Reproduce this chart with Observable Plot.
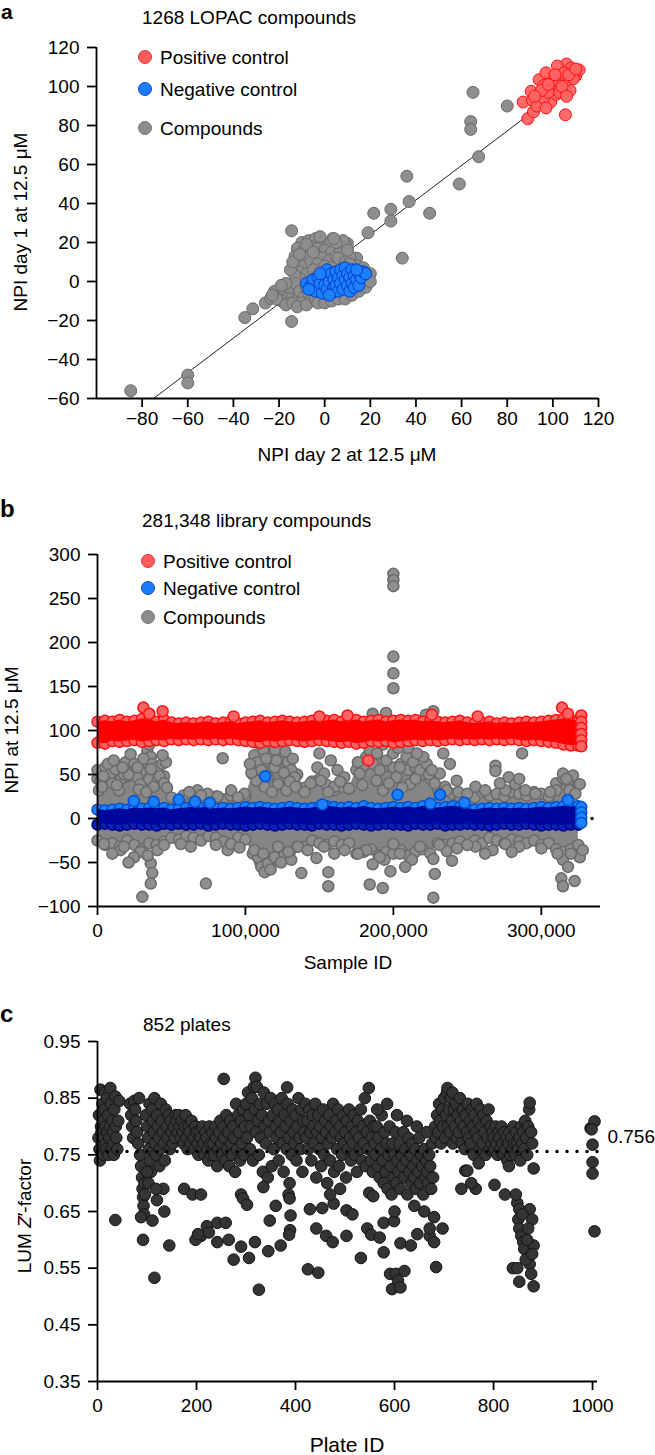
<!DOCTYPE html>
<html>
<head>
<meta charset="utf-8">
<script src="https://cdn.jsdelivr.net/npm/d3@7"></script>
<script src="https://cdn.jsdelivr.net/npm/@observablehq/plot@0.6"></script>
<style>
  html, body { margin: 0; padding: 0; background: #fff; }
  #root { position: relative; width: 655px; height: 1455px; overflow: hidden; }
  .panel { position: absolute; left: 0; }
  #overlay { position: absolute; left: 0; top: 0; pointer-events: none; }
</style>
</head>
<body>
<div id="root">
  <div class="panel" id="pa" style="top:0px"></div>
  <div class="panel" id="pb" style="top:480px"></div>
  <div class="panel" id="pc" style="top:990px"></div>
</div>
<script>
const FONT = "'Liberation Sans', Arial, Helvetica, sans-serif";

// ---------------- Panel a: LOPAC replicate scatter ----------------
const aTicksX = [-80, -60, -40, -20, 0, 20, 40, 60, 80, 100, 120];
const aTicksY = [-60, -40, -20, 0, 20, 40, 60, 80, 100, 120];
const aDomainX = [-100, 120];
const aDomainY = [-60, 120];
const aCompounds = [
  [-85,-56],[-60,-48],[-60,-52],[-35,-18.5],[-31.5,-14],[-26,-11],[-14.5,26],[-14.5,-20.5],
  [65,97],[80,90],[64,82],[64,78],[67.5,64],[59,50],[36,54],[37,41],[29,37],[29,31],[21.5,35],
  [46,35],[34,12],[19,25],[14,12],[10,19.5],[3.5,22],[3.5,18],[-23.6,-8.7],[-19,-8.7],
  [-10,20],[-7,21],[-4,22],[-1,20],[2,19],[-12,17],[-9,16],[-6,18],[-3,17],[0,16],[3,15],
  [-13,13],[-10,12],[-7,13],[-4,14],[-1,12],[2,11],[5,13],[-12,9],[-9,8],[-6,10],[-3,9],[0,8],
  [3,7],[-11,5],[-8,4],[-5,6],[-2,5],[1,4],[-10,1],[-7,0],[-4,2],[-13,3],[-15,6],[-14,10],
  [-11,14],[-8,19],[-5,15],[7,16],[9,19],[8,21],[6,12],[9,10],[11,13],[10,16],[12,8],[5,20],
  [-2,23],[4,22],
  [-22,-5],[-20,-7],[-18,-4],[-16,-8],[-19,-10],[-21,-9],[-17,-12],[-14,-6],[-12,-9],[-15,-3],
  [-13,-1],[-11,-5],[-9,-8],[-10,-11],[-7,-6],[-6,-10],[-8,-3],[-17,-1],[-23,-7],[-19,-2],
  [-14,-11],[-12,-13],[-8,-12],
  [-4,-9],[-1,-8],[2,-9],[5,-7],[8,-6],[11,-5],[14,-3],[17,-1],[19,2],[20,4],[16,3],[13,1],
  [10,-2],[7,-4],[4,-5],[1,-3],[-2,-4],[-5,-3],[6,1],[9,3],[12,5],[15,6],[3,4],[0,0],[18,0],
  [-3,-11],[0,-11],[3,-10],[6,-9],[9,-9],[12,-7],[15,-5],[18,-3],[20,0],[14,8],[17,7],[11,9],[8,7]
];
const aNegative = [
  [-8,-1],[-6,-2],[-5,1],[-4,-5],[-3,2],[-2,-1],[-1,-6],[0,3],[0,-2],[1,6],[1,-4],[2,0],[3,4],
  [3,-6],[4,1],[4,-3],[5,5],[5,-2],[6,-5],[6,2],[7,6],[7,-1],[8,3],[8,-4],[9,1],[9,7],[10,-2],
  [10,4],[11,-5],[11,2],[12,6],[12,-1],[13,3],[13,-3],[14,1],[15,4],[15,-2],[16,2],[17,5],
  [18,4],[-7,-4],[-2,4],[2,-7],[14,6]
];
const aPositive = [
  [89,83.5],[91.5,87],[87,92],[90.5,97.5],[94,103.5],[99,92],[101.5,96],[105.5,85.5],[107.5,98],
  [110,105.5],[111.5,108.5],[106,111.5],[102,110.5],[108,109.5],[99,104.5],[94.5,96],[96,100.5],
  [103,103],[106,103],[91,93],[97,107],[100,99],[104,106],[93,90],[96,94],[98,97],[102,101],
  [105,107],[109,104],[107,106],[95,98],[100,103],[103,97],[92,95],[98,101],[104,100],[110,109],
  [101,106],[97,89],[106,95]
];
const aFit = [[-75, -60], [108, 102]];

// ---------------- Panel b: full library screen ----------------
const bTicksX = [0, 100, 200, 300];            // sample ID, thousands
const bTicksY = [-100, -50, 0, 50, 100, 150, 200, 250, 300];
const bDomainX = [0, 340];
const bDomainY = [-100, 300];
const bColumns = [0,5,10,15,20,25,30,35,40,45,50,55,60,65,70,75,80,85,90,95,100,105,110,115,120,
  125,130,135,140,145,150,155,160,165,170,175,180,185,190,195,200,205,210,215,220,225,230,235,240,
  245,250,255,260,265,270,275,280,285,290,295,300,305,310,315,320,325];
const bPosTop = [110,111,110,112,110,111,113,112,110,112,109,108,109,108,109,110,108,109,110,108,
  109,110,111,109,110,111,110,109,110,111,110,111,112,110,111,112,110,111,112,110,111,112,111,112,
  110,111,110,109,110,111,109,108,109,110,108,109,108,109,110,109,110,111,112,113,112,111];
const bPosBottom = [86,85,88,87,88,89,87,88,89,88,90,89,90,89,90,89,90,89,90,89,88,87,86,88,87,88,
  89,88,87,88,89,88,87,86,87,85,86,88,87,88,86,87,88,89,88,89,88,89,90,89,90,89,90,89,90,89,90,89,
  88,89,88,87,86,84,83,83];
const bNegTop = [10,9,10,11,10,12,11,12,11,12,10,11,12,13,12,13,11,12,11,12,13,12,13,12,11,12,13,12,
  11,12,13,14,13,12,13,12,14,12,11,12,13,12,13,12,14,13,12,13,14,13,11,10,11,12,11,12,11,12,11,12,
  13,12,13,14,13,14];
const bNegBottom = [-7,-6,-7,-8,-7,-6,-7,-7,-8,-6,-7,-6,-7,-7,-6,-8,-7,-6,-7,-7,-8,-7,-6,-7,-8,-7,
  -6,-7,-7,-8,-6,-7,-7,-8,-7,-6,-7,-8,-7,-6,-7,-7,-8,-6,-7,-7,-6,-8,-7,-7,-6,-7,-7,-8,-7,-6,-7,-7,
  -6,-7,-8,-7,-7,-8,-7,-7];
const bCmpTop = [45,55,50,58,48,55,52,60,56,48,24,20,24,22,20,23,25,22,26,21,25,50,60,65,62,68,58,
  50,35,42,45,38,32,36,34,55,60,65,62,60,58,62,55,58,50,45,34,36,28,25,27,24,30,26,28,25,30,28,26,
  30,28,25,40,45,42,38];
const bCmpBottom = [-25,-30,-28,-32,-25,-30,-35,-28,-30,-26,-22,-24,-20,-22,-25,-20,-22,-26,-30,-22,
  -24,-40,-50,-55,-48,-42,-38,-32,-32,-25,-28,-30,-26,-30,-28,-40,-38,-35,-42,-38,-40,-36,-42,-38,
  -35,-40,-28,-30,-28,-26,-30,-25,-28,-22,-25,-28,-24,-26,-28,-25,-30,-28,-35,-38,-35,-30];
const bCompounds = [
  [0,55],[2,43],[5.4,58],[8.8,51],[12.2,56],[14.5,32],[1,32],[4,48],[10,40],[16,45],[7,62],[3,36],
  [13,38],[18,50],[19,64],[22.4,73],[24.6,55],[26.9,47],[29.1,39],[21,50],[25,62],[28,33],
  [33.7,77],[36,70],[37,62],[38.2,51],[34.8,45],[40.5,58],[43.9,62],[46.2,64],[40.5,43],[35,84],
  [36,56],[42,48],[45,40],[38,36],[33,30],[47,35],[11,66],[17,58],[31,68],[44,72],[27,58],
  [84.6,68.5],[67.6,32],[74.4,28],[81.2,25],[90.3,32],[99.3,28],[58,26],[62,30],[95,24],[70,26],
  [106,72],[108.4,64],[110.7,55],[115.2,47],[119.7,58],[124.3,70],[128.8,64],[131,55],[133.3,47],
  [113,36],[122,39],[127.7,32],[107.3,43],[117.5,72],[112,78],[126,52],[130,42],[118,30],[104,52],
  [109,85],[121,66],[134,36],[114,68],[120,78],[127,76],[132,68],[103,62],
  [108.4,-44],[110.7,-55],[113,-61],[115.2,-51],[119.7,-44],[126.5,-40],[131,-47],[135.5,-32],
  [106,-36],[122,-32],[112,-40],[117,-58],[124,-50],[129,-38],
  [150,74],[148.6,58],[153.2,51],[157.7,66],[162.2,55],[166.8,47],[150.9,43],[160,36],[144,40],
  [140,30],[170,34],[156,30],[164,42],
  [137.8,-62],[156,-61],[156,-77],[142,-36],[153,-32],[167,-36],[148,-45],[160,-40],
  [177.2,51],[181.7,70],[186.3,62],[190.8,55],[195.3,66],[199.8,74],[204.4,58],[208.9,70],[213.4,64],
  [217.9,55],[222.5,62],[188.5,43],[193,32],[202,47],[211.1,39],[220.2,70],[184,77],[179,38],
  [197,40],[206,35],[215,45],[193,84],[210,80],[180,90],[200,98],[195,120],[186,119],[222,118],
  [227,122],[176,64],[189,74],[203,80],[216,74],[224,50],
  [200,278],[200,271],[200,264],[200,184],[200,165],[200,148],
  [184,-75],[192.8,-79],[194,-47],[212.5,-47],[181.7,-36],[190.8,-44],[204.4,-40],[218,-32],
  [200,-29],[176,-40],[186,-52],[208,-55],[198,-60],
  [233.7,74],[238.2,62],[231.4,51],[242.8,43],[236,32],[228,40],[226,55],[244,30],
  [227,-46],[228,-63],[227,-90],[239.6,-48],[236,-37],[231,-30],[243,-34],
  [269,60],[269,54],[287,74],[255.5,36],[262,32],[278,47],[282.4,39],[289.2,32],[275.7,32],[250,28],
  [272,40],[285,45],
  [255.5,-32],[275.7,-29],[267,-36],[285,-32],[250,-30],[262,-40],[280,-38],
  [314.6,51],[321.4,49],[310,32],[326,39],[319,32],[317,45],[323,28],[306,30],[296,28],
  [314.6,-47],[313.5,-68],[322.5,-71],[314.6,-77],[326,-44],[328,-36],[318,-55],[311,-40],[320,-40],
  [300,-34],
  [30.3,-89],[36,-51],[37,-62],[36,-74],[73.3,-74],[29,-38],[15.6,-36],[4.3,-29],[17.9,-32],
  [24.7,-44],[40.5,-36],[88,-36],[90.3,-29],[63,-32],[56.3,-29],[10,-40],[21,-50],[34,-42],[45,-30],
  [80,-30],[96,-33]
];
const bPositiveExtra = [
  [31,126],[44,122],[35,119],[314,126],[318,119],[169,117],[226,118],[257,116],[92,116],[150,116],
  [327,117],[327,110],[327,103],[327,96],[327,89],[327,82],[183,66]
];
const bNegativeExtra = [
  [24.6,20],[55,21.5],[113.4,48],[202.8,27],[231.5,27],[76,18],[38,19],[66,19],[248,18],[225,17],
  [318,21],[152,16],[327,13],[327,7],[327,1],[327,-5]
];
const bMean = 0;
const bMeanRange = [0, 335];

// ---------------- Panel c: plate Z'-factors ----------------
const cTicksX = [0, 200, 400, 600, 800, 1000];
const cTicksY = [0.35, 0.45, 0.55, 0.65, 0.75, 0.85, 0.95];
const cDomainX = [0, 1010];
const cDomainY = [0.35, 0.95];
const cMean = 0.756;
const cMeanRange = [0, 1022];
const cPlates = [
  [2,0.78],[3,0.82],[4,0.76],[5,0.74],[6,0.865],[7,0.80],[8,0.79],[9,0.77],[10,0.84],[11,0.81],
  [12,0.75],[13,0.78],[14,0.83],[15,0.86],[16,0.80],[17,0.77],[18,0.76],[19,0.85],[20,0.79],
  [21,0.82],[22,0.75],[24,0.78],[25,0.80],[26,0.868],[27,0.84],[28,0.76],[30,0.81],[31,0.79],
  [32,0.77],[33,0.75],[34,0.83],[36,0.853],[37,0.80],[38,0.78],[40,0.76],[42,0.81],[44,0.845],
  [36,0.635],
  [66,0.84],[68,0.82],[70,0.80],[72,0.78],[74,0.845],[76,0.83],[78,0.81],[80,0.79],[82,0.77],
  [84,0.85],[86,0.75],[88,0.73],[90,0.71],[91,0.69],[92,0.675],[93,0.66],[94,0.645],[95,0.70],
  [96,0.68],[88,0.64],[92,0.60],[98,0.82],[100,0.80],[102,0.78],[104,0.76],[105,0.84],[106,0.74],
  [108,0.72],[110,0.83],[112,0.81],[114,0.79],[115,0.85],[116,0.77],[118,0.75],[120,0.82],
  [122,0.80],[124,0.78],[125,0.73],[126,0.76],[128,0.84],[130,0.81],[132,0.79],[133,0.69],
  [134,0.77],[135,0.65],[136,0.74],[138,0.83],[140,0.80],[142,0.78],[144,0.82],[145,0.59],
  [146,0.76],[148,0.81],[150,0.79],[152,0.77],[154,0.80],[156,0.78],[158,0.82],[111,0.634],
  [115,0.533],[103,0.70],[100,0.72],[120,0.67],[118,0.69],
  [160,0.81],[162,0.79],[164,0.82],[166,0.80],[168,0.78],[170,0.81],[172,0.79],[174,0.77],
  [175,0.69],[176,0.80],[178,0.82],[180,0.78],[182,0.76],[184,0.80],[186,0.79],[188,0.77],
  [190,0.81],[192,0.68],[194,0.78],[196,0.76],[198,0.80],[200,0.79],[202,0.77],[204,0.75],
  [206,0.79],[208,0.78],[209,0.68],[210,0.76],[212,0.80],[214,0.77],[216,0.75],[218,0.79],
  [220,0.78],[222,0.76],[224,0.74],[226,0.80],[228,0.77],[230,0.75],[209,0.607],[221,0.624],
  [225,0.613],[198,0.60],[203,0.61],
  [232,0.79],[234,0.77],[236,0.75],[238,0.80],[240,0.78],[242,0.73],[244,0.76],[246,0.79],
  [248,0.81],[250,0.77],[252,0.75],[254,0.80],[255,0.884],[256,0.78],[258,0.74],[260,0.82],
  [262,0.76],[264,0.79],[266,0.73],[268,0.81],[270,0.77],[272,0.75],[274,0.80],[276,0.78],
  [278,0.72],[280,0.84],[282,0.76],[284,0.82],[286,0.79],[288,0.74],[290,0.81],[292,0.77],
  [294,0.83],[296,0.75],[298,0.80],[242,0.63],[259,0.63],[242,0.596],[290,0.588],[290,0.68],
  [294,0.673],[302,0.662],[265,0.60],[275,0.565],
  [300,0.84],[302,0.78],[304,0.86],[306,0.82],[308,0.76],[310,0.80],[312,0.85],[314,0.74],
  [316,0.87],[318,0.83],[319,0.886],[320,0.79],[322,0.87],[324,0.81],[326,0.75],[328,0.84],
  [330,0.78],[332,0.82],[334,0.72],[336,0.86],[338,0.80],[340,0.77],[342,0.84],[344,0.71],
  [346,0.81],[348,0.79],[350,0.85],[352,0.73],[354,0.82],[356,0.76],[358,0.84],[360,0.80],
  [362,0.78],[364,0.83],[366,0.74],[368,0.81],[370,0.79],[372,0.85],[374,0.77],[376,0.72],
  [378,0.82],[380,0.80],[382,0.76],[383,0.869],[384,0.84],[386,0.78],[388,0.70],[390,0.81],
  [392,0.75],[394,0.83],[396,0.79],[398,0.77],[400,0.82],[402,0.74],[404,0.80],[406,0.85],
  [408,0.78],[410,0.76],[412,0.83],[414,0.72],[416,0.81],[418,0.79],[420,0.84],
  [306,0.568],[318,0.596],[326,0.512],[335,0.693],[348,0.634],[386,0.68],[388,0.673],[390,0.643],
  [389,0.617],[387,0.609],[360,0.66],[370,0.59],[345,0.58],
  [422,0.78],[424,0.81],[426,0.76],[428,0.83],[430,0.79],[432,0.74],[434,0.82],[436,0.80],
  [438,0.77],[440,0.84],[442,0.71],[444,0.79],[446,0.82],[448,0.76],[450,0.80],[452,0.73],
  [454,0.78],[456,0.83],[458,0.75],[460,0.81],[462,0.79],[464,0.70],[466,0.77],[468,0.82],
  [470,0.74],[472,0.80],[474,0.78],[476,0.84],[478,0.72],[480,0.79],[482,0.81],[484,0.76],
  [486,0.83],[488,0.73],[490,0.80],[492,0.78],[494,0.75],[496,0.82],[498,0.77],[500,0.79],
  [502,0.71],[504,0.81],[506,0.76],[508,0.83],[510,0.78],[512,0.74],[514,0.80],[516,0.77],
  [518,0.82],[520,0.75],[522,0.79],[524,0.72],[526,0.81],[528,0.78],[530,0.76],[532,0.83],
  [534,0.74],[536,0.80],[538,0.77],[540,0.85],[542,0.73],[544,0.79],[546,0.76],[548,0.868],
  [550,0.81],[552,0.74],[554,0.78],[556,0.72],[558,0.80],
  [425,0.548],[446,0.542],[429,0.654],[442,0.62],[454,0.656],[462,0.607],[475,0.596],[477,0.664],
  [503,0.607],[503,0.652],[515,0.645],[532,0.568],[545,0.62],[553,0.609],[549,0.683],[557,0.677],
  [490,0.69],[470,0.68],
  [560,0.77],[562,0.75],[564,0.80],[566,0.73],[568,0.78],[570,0.71],[572,0.76],[574,0.82],
  [576,0.74],[578,0.70],[580,0.79],[582,0.72],[584,0.77],[586,0.69],[588,0.75],[590,0.80],
  [592,0.73],[594,0.68],[596,0.77],[598,0.71],[600,0.75],[602,0.79],[604,0.70],[606,0.74],
  [608,0.72],[610,0.77],[612,0.69],[614,0.75],[616,0.73],[618,0.79],[620,0.71],[622,0.76],
  [624,0.74],[626,0.68],[628,0.78],[630,0.72],[632,0.75],[634,0.70],[636,0.77],[638,0.73],
  [640,0.71],[642,0.76],[644,0.69],[646,0.74],[648,0.72],[650,0.78],[652,0.70],[654,0.75],
  [656,0.73],[658,0.68],[660,0.76],[662,0.71],[664,0.74],[666,0.72],[668,0.70],[670,0.75],
  [672,0.73],[674,0.69],[676,0.77],[678,0.71],[565,0.83],[585,0.84],[605,0.82],[625,0.81],
  [645,0.80],[665,0.79],
  [570,0.604],[578,0.578],[578,0.63],[591,0.54],[595,0.513],[599,0.633],[603,0.54],[607,0.528],
  [612,0.516],[620,0.545],[612,0.594],[633,0.59],[646,0.61],[671,0.607],[680,0.596],[684,0.552],
  [697,0.62],[671,0.62],[680,0.64],[600,0.65],[640,0.66],[660,0.65],
  [682,0.80],[684,0.78],[686,0.82],[688,0.79],[690,0.84],[692,0.81],[694,0.77],[696,0.83],
  [698,0.80],[700,0.85],[702,0.78],[704,0.82],[706,0.86],[707,0.868],[708,0.80],[710,0.83],
  [712,0.79],[714,0.85],[716,0.81],[717,0.86],[718,0.77],[720,0.83],[722,0.80],[724,0.84],
  [726,0.78],[728,0.82],[730,0.79],[732,0.85],[734,0.81],[736,0.77],[738,0.83],[740,0.80],
  [742,0.76],[744,0.82],[746,0.79],[748,0.84],[750,0.78],[752,0.81],[754,0.77],[756,0.83],
  [758,0.80],[760,0.75],[762,0.82],[764,0.79],[766,0.84],[768,0.78],[770,0.81],[772,0.76],
  [774,0.83],[776,0.80],[778,0.77],[780,0.82],[782,0.79],[784,0.75],[786,0.81],[788,0.78],
  [790,0.83],[792,0.76],[794,0.80],[796,0.77],[798,0.79],
  [735,0.69],[764,0.69],[802,0.697],[743,0.722],[747,0.722],[770,0.735],[823,0.68],[755,0.70],
  [800,0.78],[802,0.76],[804,0.80],[806,0.77],[808,0.75],[810,0.79],[812,0.78],[814,0.76],
  [816,0.80],[818,0.77],[820,0.75],[822,0.79],[824,0.76],[826,0.78],[828,0.74],[830,0.77],
  [832,0.79],[834,0.75],[836,0.78],[838,0.76],[840,0.80],[842,0.77],[844,0.75],[846,0.79],
  [848,0.77],[850,0.76],[852,0.78],[854,0.74],[856,0.80],[858,0.77],[860,0.79],[862,0.76],
  [864,0.81],[866,0.78],[868,0.75],[870,0.80],[872,0.83],[873,0.842],[876,0.79],[878,0.77],
  [831,0.73],[848,0.665],[852,0.654],[850,0.636],[852,0.62],[856,0.607],[860,0.596],[862,0.584],
  [839,0.55],[848,0.55],[852,0.526],[873,0.654],[878,0.636],[881,0.59],[873,0.557],[876,0.54],
  [881,0.518],[881,0.726],[868,0.60],[870,0.62],[845,0.68],[858,0.645],[865,0.565],[878,0.575],
  [996,0.797],[1004,0.809],[998,0.795],[1000,0.768],[1000,0.737],[1000,0.717],[1004,0.615]
];

// ---------------- colours & legend ----------------
const legendNames = ["Positive control", "Negative control", "Compounds"];
const legendFill = ["#ff5b5b", "#1a7dff", "#8c8c8c"];
const legendStroke = ["#e83030", "#1048c8", "#777777"];

const GRAY = "#8e8e8e", GRAY_S = "#6a6a6a", GRAY_AREA = "#858585";
const BLUE = "#1a80ff", BLUE_S = "#0a3cc0";
const NAVY = "#00079c", NAVY_DOT = "#0a22b4", NAVY_S = "#000088";
const RED = "#ff6262", RED_S = "#ff1010", RED_BAND = "#ff0000";
const DARK = "#343434", DARK_S = "#141414";

const baseStyle = {fontFamily: FONT, fontSize: "19px", color: "#000", background: "transparent", overflow: "visible"};
const fmtInt = d3.format("d");
const fx = d => d[0], fy = d => d[1];

// Panel a
const chartA = Plot.plot({
  width: 655, height: 480,
  marginTop: 47, marginBottom: 82, marginLeft: 96, marginRight: 57,
  style: baseStyle,
  x: {domain: aDomainX},
  y: {domain: aDomainY},
  marks: [
    Plot.line(aFit, {x: fx, y: fy, stroke: "#222", strokeWidth: 1}),
    Plot.dot(aCompounds, {x: fx, y: fy, r: 6, fill: GRAY, stroke: GRAY_S, strokeWidth: 1}),
    Plot.dot(aNegative, {x: fx, y: fy, r: 6, fill: BLUE, stroke: BLUE_S, strokeWidth: 1}),
    Plot.dot(aPositive, {x: fx, y: fy, r: 6, fill: RED, stroke: RED_S, strokeWidth: 1, fillOpacity: 0.95}),
    Plot.ruleX([aDomainX[0]], {stroke: "#000", strokeWidth: 1.8}),
    Plot.ruleY([aDomainY[0]], {stroke: "#000", strokeWidth: 1.8}),
    Plot.axisX({ticks: aTicksX, tickSize: 9, tickPadding: 4, label: null, strokeWidth: 1.8, tickFormat: fmtInt}),
    Plot.axisY({ticks: aTicksY, tickSize: 9, tickPadding: 8, label: null, strokeWidth: 1.8, tickFormat: fmtInt})
  ]
});
document.getElementById("pa").appendChild(chartA);

// Panel b
const bRows = bColumns.map((c, i) => ({
  x: c, pt: bPosTop[i], pb: bPosBottom[i], nt: bNegTop[i], nb: bNegBottom[i], ct: bCmpTop[i], cb: bCmpBottom[i]
}));
const chartB = Plot.plot({
  width: 655, height: 500,
  marginTop: 74, marginBottom: 74, marginLeft: 97, marginRight: 55,
  style: baseStyle,
  x: {domain: bDomainX},
  y: {domain: bDomainY},
  marks: [
    Plot.ruleY([bMean], {x1: bMeanRange[0], x2: bMeanRange[1], stroke: "#000", strokeWidth: 3.5, strokeDasharray: "0,9", strokeLinecap: "round"}),
    // compounds cloud
    Plot.areaY(bRows, {x: "x", y1: "cb", y2: "ct", fill: GRAY_AREA}),
    Plot.dot(bRows, {x: "x", y: "ct", r: 5.5, fill: GRAY, stroke: GRAY_S}),
    Plot.dot(bRows, {x: "x", y: "cb", r: 5.5, fill: GRAY, stroke: GRAY_S}),
    Plot.dot(bCompounds, {x: fx, y: fy, r: 5.5, fill: GRAY, stroke: GRAY_S}),
    // negative controls band
    Plot.dot(bRows, {x: "x", y: "nb", r: 5.5, fill: NAVY_DOT, stroke: NAVY_S}),
    Plot.dot(bRows, {x: "x", y: "nt", r: 5.5, fill: BLUE, stroke: "#0050d0"}),
    Plot.areaY(bRows, {x: "x", y1: "nb", y2: "nt", fill: NAVY}),
    // positive controls band
    Plot.dot(bRows, {x: "x", y: "pt", r: 5.5, fill: RED, stroke: RED_S}),
    Plot.dot(bRows, {x: "x", y: "pb", r: 5.5, fill: RED, stroke: RED_S}),
    Plot.areaY(bRows, {x: "x", y1: "pb", y2: "pt", fill: RED_BAND}),
    Plot.dot(bPositiveExtra, {x: fx, y: fy, r: 5.5, fill: RED, stroke: RED_S}),
    Plot.dot(bNegativeExtra, {x: fx, y: fy, r: 5.5, fill: BLUE, stroke: "#0050d0"}),
    Plot.ruleX([bDomainX[0]], {stroke: "#000", strokeWidth: 1.8}),
    Plot.ruleY([bDomainY[0]], {stroke: "#000", strokeWidth: 1.8}),
    Plot.axisX({ticks: bTicksX, tickSize: 9, tickPadding: 8, label: null, strokeWidth: 1.8, tickFormat: d => d3.format(",")(d * 1000)}),
    Plot.axisY({ticks: bTicksY, tickSize: 9, tickPadding: 8, label: null, strokeWidth: 1.8, tickFormat: fmtInt})
  ]
});
document.getElementById("pb").appendChild(chartB);

// Panel c
const chartC = Plot.plot({
  width: 655, height: 465,
  marginTop: 51, marginBottom: 74, marginLeft: 97, marginRight: 58,
  style: baseStyle,
  x: {domain: cDomainX},
  y: {domain: cDomainY},
  marks: [
    Plot.dot(cPlates, {x: fx, y: fy, r: 5.8, fill: DARK, stroke: DARK_S, strokeWidth: 1}),
    Plot.ruleY([cMean], {x1: cMeanRange[0], x2: cMeanRange[1], stroke: "#000", strokeWidth: 3.5, strokeDasharray: "0,10", strokeLinecap: "round", clip: false}),
    Plot.text([cMean], {x: cMeanRange[1], y: d => d, text: d => d3.format(".3f")(d), textAnchor: "start", dx: 4, dy: -15, fontSize: 19}),
    Plot.ruleX([cDomainX[0]], {stroke: "#000", strokeWidth: 1.8}),
    Plot.ruleY([cDomainY[0]], {stroke: "#000", strokeWidth: 1.8}),
    Plot.axisX({ticks: cTicksX, tickSize: 9, tickPadding: 8, label: null, strokeWidth: 1.8, tickFormat: fmtInt}),
    Plot.axisY({ticks: cTicksY, tickSize: 9, tickPadding: 8, label: null, strokeWidth: 1.8, tickFormat: d3.format(".2f")})
  ]
});
document.getElementById("pc").appendChild(chartC);

// ---------------- overlay text: panel letters, titles, legends, axis titles ----------------
const NS = "http://www.w3.org/2000/svg";
const ov = document.createElementNS(NS, "svg");
ov.setAttribute("id", "overlay");
ov.setAttribute("width", 655);
ov.setAttribute("height", 1455);
ov.setAttribute("font-family", FONT);
ov.setAttribute("font-size", 19);
document.getElementById("root").appendChild(ov);
function txt(x, y, s, opts = {}) {
  const t = document.createElementNS(NS, "text");
  t.setAttribute("x", x); t.setAttribute("y", y);
  if (opts.anchor) t.setAttribute("text-anchor", opts.anchor);
  if (opts.weight) t.setAttribute("font-weight", opts.weight);
  if (opts.size) t.setAttribute("font-size", opts.size);
  if (opts.rotate) t.setAttribute("transform", `rotate(-90 ${x} ${y})`);
  if (Array.isArray(s)) {
    s.forEach(([str, st]) => { const ts = document.createElementNS(NS, "tspan"); ts.textContent = str; if (st) ts.setAttribute("font-style", st); t.appendChild(ts); });
  } else t.textContent = s;
  ov.appendChild(t);
}
function circ(cx, cy, fill, stroke) {
  const c = document.createElementNS(NS, "circle");
  c.setAttribute("cx", cx); c.setAttribute("cy", cy); c.setAttribute("r", 6.5);
  c.setAttribute("fill", fill); c.setAttribute("stroke", stroke);
  ov.appendChild(c);
}
// panel a
txt(1, 19, "a", {weight: "bold", size: 21});
txt(142, 24, "1268 LOPAC compounds");
[57, 89, 128].forEach((cy, i) => { circ(145, cy, legendFill[i], legendStroke[i]); txt(160, cy + 7, legendNames[i]); });
txt(27, 222, "NPI day 1 at 12.5 \u03bcM", {anchor: "middle", rotate: true});
txt(347, 461, "NPI day 2 at 12.5 \u03bcM", {anchor: "middle"});
// panel b
txt(0, 517, "b", {weight: "bold", size: 24});
txt(142, 527, "281,348 library compounds");
[561, 588, 617].forEach((cy, i) => { circ(148, cy, legendFill[i], legendStroke[i]); txt(163, cy + 7, legendNames[i]); });
txt(18, 730, "NPI at 12.5 \u03bcM", {anchor: "middle", rotate: true});
txt(348, 969, "Sample ID", {anchor: "middle"});
// panel c
txt(0, 1022, "c", {weight: "bold", size: 24});
txt(143, 1031, "852 plates");
txt(31, 1216, [["LUM "], ["Z", "italic"], ["\u2032-factor"]], {anchor: "middle", rotate: true});
txt(347, 1452, "Plate ID", {anchor: "middle", size: 21});
</script>
</body>
</html>
